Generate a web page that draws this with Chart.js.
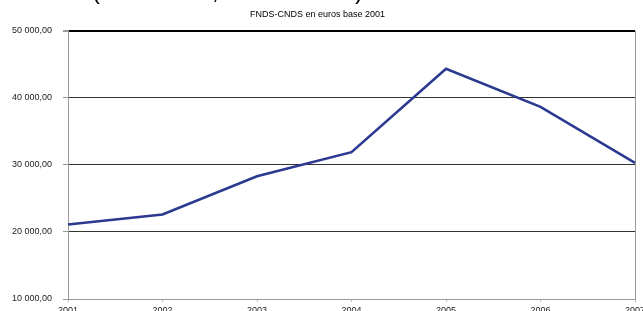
<!DOCTYPE html>
<html>
<head>
<meta charset="utf-8">
<script src="https://cdn.jsdelivr.net/npm/chart.js@4/dist/chart.umd.min.js"></script>
<style>
    html, body { margin: 0; padding: 0; background: #fff; overflow: hidden; }
    #wrap { position: relative; width: 643px; height: 311px; }
    #cut { position: absolute; top: -21px; left: 0; font: 24px "Liberation Sans", Arial, sans-serif; line-height: 24px; color: #000; }
    #cut span { position: absolute; top: 0; }
</style>
</head>
<body>
<div id="wrap">
    <canvas id="chart" width="643" height="311"></canvas>
    <!-- bottom of a heading that is cut off by the top edge -->
    <div id="cut"><span style="left:92px">(</span><span style="left:212px">,</span><span style="left:355px">)</span></div>
</div>
<script>
const YEARS = ['2001', '2002', '2003', '2004', '2005', '2006', '2007'];
const FNDS_CNDS = [21100, 22600, 28300, 31900, 44350, 38650, 30300];
const Y_TICKS = [10000, 20000, 30000, 40000, 50000];
const TITLE = 'FNDS-CNDS en euros base 2001';

// 50000 -> "50 000,00"
function formatFr(v) {
    const s = Math.round(v).toString().replace(/\B(?=(\d{3})+(?!\d))/g, ' ');
    return s + ',00';
}

window.onload = () => {
    const ctx = document.getElementById('chart').getContext('2d');
    Chart.defaults.font.family = '"Liberation Sans", Arial, sans-serif';
    Chart.defaults.font.size = 9;
    Chart.defaults.color = '#222';

    new Chart(ctx, {
        type: 'line',
        data: {
            labels: YEARS,
            datasets: [{
                data: FNDS_CNDS,
                borderColor: '#2b3990',
                borderWidth: 2.6,
                pointRadius: 0,
                tension: 0,
                fill: false
            }]
        },
        options: {
            responsive: false,
            animation: false,
            layout: { padding: { left: 0, right: 8, top: 0, bottom: 0 } },
            plugins: {
                legend: { display: false },
                tooltip: { enabled: false },
                title: {
                    display: true,
                    text: TITLE,
                    color: '#000',
                    font: { size: 9, weight: 'normal' },
                    padding: { top: 9, bottom: 11 }
                }
            },
            scales: {
                x: {
                    offset: false,
                    grid: {
                        drawOnChartArea: true,
                        // only the right frame line of the plot
                        color: c => c.index === YEARS.length - 1 ? '#999' : 'rgba(0,0,0,0)',
                        tickColor: '#bbb',
                        tickLength: 3,
                        lineWidth: 1
                    },
                    border: { color: '#999', width: 1 },
                    ticks: { padding: 3, maxRotation: 0, autoSkip: false, color: '#222' },
                    afterFit: s => { s.height = 12; s.paddingLeft = 0; s.paddingRight = 0; }
                },
                y: {
                    min: 10000,
                    max: 50000,
                    afterBuildTicks: s => { s.ticks = Y_TICKS.map(v => ({ value: v })); },
                    grid: {
                        color: c => {
                            const v = c.tick && c.tick.value;
                            if (v === 50000) return '#000';
                            if (v === 10000) return '#999';
                            return '#333';
                        },
                        lineWidth: c => (c.tick && c.tick.value === 50000) ? 2 : 1,
                        tickColor: '#999',
                        tickLength: 5
                    },
                    border: { color: '#999', width: 1 },
                    ticks: {
                        padding: 11,
                        color: '#222',
                        callback: v => formatFr(v)
                    },
                    afterFit: s => { s.width = 68; s.paddingTop = 0; s.paddingBottom = 0; }
                }
            }
        }
    });
};
</script>
</body>
</html>
